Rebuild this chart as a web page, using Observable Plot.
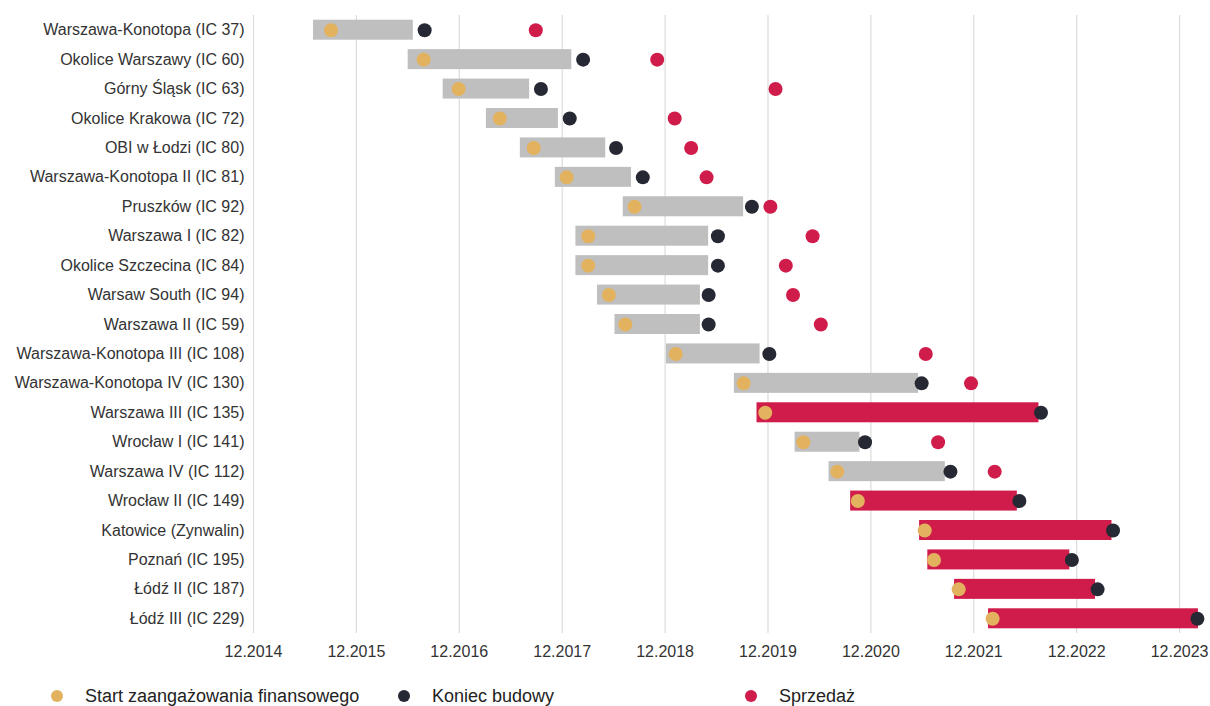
<!DOCTYPE html>
<html>
<head>
<meta charset="utf-8">
<script src="https://cdn.jsdelivr.net/npm/d3@7"></script>
<script src="https://cdn.jsdelivr.net/npm/@observablehq/plot@0.6"></script>
<style>
  html, body { margin: 0; padding: 0; background: #fff; }
  body { width: 1210px; height: 706px; overflow: hidden; font-family: "Liberation Sans", Arial, sans-serif; }
  #legend { display: flex; margin-top: 19px; padding-left: 51px; font-size: 18px; line-height: 18px; color: #222; }
  .item { display: flex; align-items: center; width: 347px; }
  .dot { width: 12px; height: 12px; border-radius: 50%; margin-right: 22px; flex: none; }
</style>
</head>
<body>
<div id="chart"></div>
<div id="legend"></div>
<script>
// Project names (top to bottom)
const projects = [
  "Warszawa-Konotopa (IC 37)", "Okolice Warszawy (IC 60)", "Górny Śląsk (IC 63)",
  "Okolice Krakowa (IC 72)", "OBI w Łodzi (IC 80)", "Warszawa-Konotopa II (IC 81)",
  "Pruszków (IC 92)", "Warszawa I (IC 82)", "Okolice Szczecina (IC 84)",
  "Warsaw South (IC 94)", "Warszawa II (IC 59)", "Warszawa-Konotopa III (IC 108)",
  "Warszawa-Konotopa IV (IC 130)", "Warszawa III (IC 135)", "Wrocław I (IC 141)",
  "Warszawa IV (IC 112)", "Wrocław II (IC 149)", "Katowice (Zynwalin)",
  "Poznań (IC 195)", "Łódź II (IC 187)", "Łódź III (IC 229)"
];
// Dates as decimal years
const barStart = [2015.50, 2016.42, 2016.76, 2017.18, 2017.51, 2017.85, 2018.51, 2018.05, 2018.05, 2018.26, 2018.43,
  2018.93, 2019.59, 2019.81, 2020.18, 2020.51, 2020.72, 2021.39, 2021.47, 2021.73, 2022.06];
const barEnd = [2016.47, 2018.01, 2017.60, 2017.88, 2018.34, 2018.59, 2019.68, 2019.34, 2019.34, 2019.26, 2019.26,
  2019.84, 2021.38, 2022.55, 2020.81, 2021.64, 2022.34, 2023.26, 2022.85, 2023.10, 2024.10];
const startFinancing = [2015.67, 2016.57, 2016.91, 2017.31, 2017.64, 2017.96, 2018.62, 2018.17, 2018.17, 2018.37, 2018.53,
  2019.02, 2019.68, 2019.89, 2020.26, 2020.59, 2020.79, 2021.44, 2021.53, 2021.77, 2022.10];
const endConstruction = [2016.58, 2018.12, 2017.71, 2017.99, 2018.44, 2018.70, 2019.76, 2019.43, 2019.43, 2019.34, 2019.34,
  2019.93, 2021.41, 2022.57, 2020.86, 2021.69, 2022.36, 2023.27, 2022.87, 2023.12, 2024.09];
const sale = [2017.66, 2018.84, 2019.99, 2019.01, 2019.17, 2019.32, 2019.94, 2020.35, 2020.09, 2020.16, 2020.43,
  2021.45, 2021.89, null, 2021.57, 2022.12, null, null, null, null, null];
// Axis ticks: December of each year
const tickYears = [2014, 2015, 2016, 2017, 2018, 2019, 2020, 2021, 2022, 2023];
const legendLabels = ["Start zaangażowania finansowego", "Koniec budowy", "Sprzedaż"];

const C_GRAY = "#bfbfbf", C_RED = "#d01c4b", C_ORANGE = "#e3b25f", C_DARK = "#262833";

const rows = projects.map((name, i) => ({
  name, bs: barStart[i], be: barEnd[i], st: startFinancing[i], en: endConstruction[i], sale: sale[i]
}));
const ticks = tickYears.map(y => y + 11 / 12);

const chart = Plot.plot({
  width: 1210,
  height: 668,
  marginTop: 15,
  marginBottom: 35,
  marginLeft: 253,
  marginRight: 10,
  style: { fontFamily: "'Liberation Sans', Arial, sans-serif", fontSize: "16px", color: "#333" },
  x: { domain: [2014 + 11 / 12, 2024.12] },
  y: { domain: projects, paddingInner: 0.32, paddingOuter: 0.16, round: false },
  marks: [
    Plot.ruleX(ticks, { stroke: "#dcdcdc", strokeWidth: 1.2 }),
    Plot.barX(rows, { x1: "bs", x2: "be", y: "name", fill: d => d.sale == null ? C_RED : C_GRAY }),
    Plot.dot(rows, { x: "st", y: "name", r: 7, fill: C_ORANGE }),
    Plot.dot(rows, { x: "en", y: "name", r: 7, fill: C_DARK }),
    Plot.dot(rows.filter(d => d.sale != null), { x: "sale", y: "name", r: 7, fill: C_RED }),
    Plot.axisY({ tickSize: 0, tickPadding: 9, label: null, fontSize: 16 }),
    Plot.axisX({ ticks, tickFormat: d => "12." + Math.floor(d), tickSize: 0, tickPadding: 12, label: null, fontSize: 16 })
  ]
});
document.getElementById("chart").appendChild(chart);

const legendColors = [C_ORANGE, C_DARK, C_RED];
const lg = document.getElementById("legend");
legendLabels.forEach((t, i) => {
  const it = document.createElement("div");
  it.className = "item";
  const dot = document.createElement("span");
  dot.className = "dot";
  dot.style.background = legendColors[i];
  const tx = document.createElement("span");
  tx.textContent = t;
  it.appendChild(dot); it.appendChild(tx);
  lg.appendChild(it);
});
</script>
</body>
</html>
